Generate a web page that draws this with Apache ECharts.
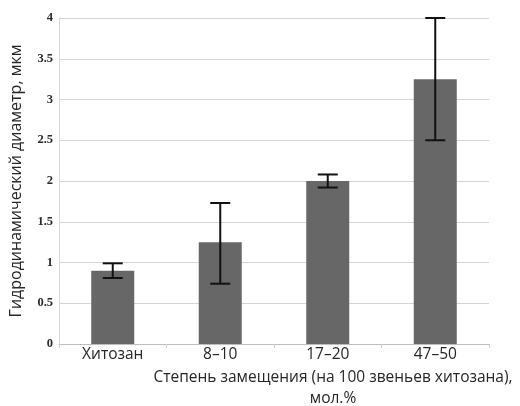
<!DOCTYPE html>
<html>
<head>
<meta charset="utf-8">
<script src="https://cdn.jsdelivr.net/npm/echarts@6/dist/echarts.min.js"></script>
<style>
  html, body { margin: 0; padding: 0; background: #fff; }
  #chart { width: 520px; height: 406px; }
</style>
</head>
<body>
<div id="chart"></div>
<script>
// Degree of substitution groups
var categories = ['Хитозан', '8–10', '17–20', '47–50'];
// Mean hydrodynamic diameter, µm
var diameters = [0.9, 1.25, 2.0, 3.25];
// Lower and upper ends of the error bars, µm
var errLow = [0.81, 0.74, 1.92, 2.5];
var errHigh = [0.99, 1.73, 2.08, 4.0];
var yTicks = ['0', '0.5', '1', '1.5', '2', '2.5', '3', '3.5', '4'];

var errorData = categories.map(function (c, i) { return [i, errLow[i], errHigh[i]]; });

var chart = echarts.init(document.getElementById('chart'), null, { renderer: 'canvas' });
chart.setOption({
  animation: false,
  backgroundColor: '#ffffff',
  grid: { left: 55, right: 31, top: 18, bottom: 62 },
  xAxis: {
    type: 'category',
    data: categories,
    axisLine: { show: true, lineStyle: { color: '#bdbdbd', width: 1 } },
    axisTick: { show: true, length: 4, lineStyle: { color: '#d0d0d0' } },
    axisLabel: { color: '#262626', fontFamily: 'Open Sans', fontSize: 15.5, margin: 3 }
  },
  yAxis: {
    type: 'value',
    min: 0, max: 4, interval: 0.5,
    name: 'Гидродинамический диаметр, мкм',
    nameLocation: 'middle',
    nameGap: 35,
    nameTextStyle: { color: '#262626', fontFamily: 'Open Sans', fontSize: 16 },
    axisLine: { show: true, lineStyle: { color: '#d6d6d6' } },
    axisTick: { show: false },
    splitLine: { lineStyle: { color: '#d4d4d4', width: 1 } },
    axisLabel: {
      color: '#2a2a2a', fontFamily: 'Liberation Serif', fontSize: 12.5, fontWeight: 'bold', margin: 6,
      formatter: function (v) { return yTicks[Math.round(v / 0.5)]; }
    }
  },
  graphic: [{
    type: 'text',
    x: 333, y: 367,
    style: {
      text: 'Степень замещения (на 100 звеньев хитозана),\nмол.%',
      textAlign: 'center',
      textVerticalAlign: 'top',
      fill: '#262626',
      font: '15.5px "Open Sans"',
      lineHeight: 21
    }
  }],
  series: [{
    type: 'bar',
    data: diameters,
    barWidth: '40%',
    itemStyle: { color: '#676767' }
  }, {
    type: 'custom',
    data: errorData,
    z: 10,
    renderItem: function (params, api) {
      var x = api.value(0);
      var lo = api.coord([x, api.value(1)]);
      var hi = api.coord([x, api.value(2)]);
      var cap = 10;
      var style = { stroke: '#111', lineWidth: 2 };
      return {
        type: 'group',
        children: [
          { type: 'line', shape: { x1: lo[0], y1: lo[1], x2: hi[0], y2: hi[1] }, style: style },
          { type: 'line', shape: { x1: lo[0] - cap, y1: lo[1], x2: lo[0] + cap, y2: lo[1] }, style: style },
          { type: 'line', shape: { x1: hi[0] - cap, y1: hi[1], x2: hi[0] + cap, y2: hi[1] }, style: style }
        ]
      };
    }
  }]
});
</script>
</body>
</html>
